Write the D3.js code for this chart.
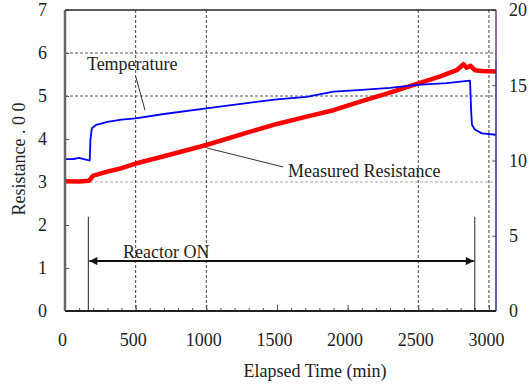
<!DOCTYPE html>
<html>
<head>
<meta charset="utf-8">
<script src="https://cdn.jsdelivr.net/npm/d3@7"></script>
<style>
  body { margin: 0; background: #fff; }
  svg { display: block; }
</style>
</head>
<body>
<div id="chart"></div>
<script>
// Temperature (right axis, deg C)
var tempTime = [0, 60, 100, 140, 175, 180, 190, 220, 300, 400, 500, 700, 1000, 1300, 1500, 1710, 1900, 2100, 2300, 2490, 2700, 2866, 2875, 2880, 2900, 2950, 3050];
var tempValue = [10.09, 10.1, 10.17, 10.08, 10.0, 11.4, 12.14, 12.37, 12.57, 12.71, 12.8, 13.09, 13.46, 13.83, 14.06, 14.23, 14.57, 14.69, 14.83, 15.03, 15.14, 15.31, 13.14, 12.37, 12.06, 11.8, 11.71];

// Measured resistance (left axis)
var resTime = [0, 100, 170, 200, 300, 400, 500, 700, 1000, 1300, 1500, 1710, 1900, 2100, 2300, 2490, 2650, 2772, 2800, 2820, 2840, 2870, 2900, 2950, 3050];
var resValue = [3.02, 3.01, 3.03, 3.15, 3.24, 3.32, 3.43, 3.6, 3.86, 4.16, 4.35, 4.52, 4.67, 4.88, 5.08, 5.28, 5.45, 5.6, 5.68, 5.74, 5.66, 5.7, 5.6, 5.58, 5.57];

// Axis ticks
var xTicks = [0, 500, 1000, 1500, 2000, 2500, 3000];
var yLeftTicks = [0, 1, 2, 3, 4, 5, 6, 7];
var yRightTicks = [0, 5, 10, 15, 20];
var xGrid = [500, 1000, 2500, 3000];
var yGrid = [3, 5, 6];

// Reactor ON period
var reactorOn = [165, 2900];

var width = 529;
var height = 389;
var margin = { top: 10, right: 33, bottom: 78, left: 65 };
var font = "'Liberation Serif', 'Times New Roman', serif";

var svg = d3.select("#chart")
  .append("svg")
  .attr("width", width)
  .attr("height", height);

var x = d3.scaleLinear()
  .domain([0, 3050])
  .range([margin.left, width - margin.right]);

var yL = d3.scaleLinear()
  .domain([0, 7])
  .range([height - margin.bottom, margin.top]);

var yR = d3.scaleLinear()
  .domain([0, 20])
  .range([height - margin.bottom, margin.top]);

// clip for the data lines
svg.append("clipPath")
  .attr("id", "plotClip")
  .append("rect")
  .attr("x", x(0))
  .attr("y", yL(7))
  .attr("width", x(3050) - x(0))
  .attr("height", yL(0) - yL(7));

// dashed grid
svg.selectAll("line.hgrid")
  .data(yGrid)
  .enter().append("line")
  .attr("class", "hgrid")
  .attr("x1", x(0))
  .attr("x2", x(3050))
  .attr("y1", d => yL(d))
  .attr("y2", d => yL(d))
  .style("stroke", "#444")
  .style("stroke-width", 1)
  .style("stroke-dasharray", "3,2")
  .style("opacity", d => d == 3 ? 0.45 : 0.9);

svg.selectAll("line.vgrid")
  .data(xGrid)
  .enter().append("line")
  .attr("class", "vgrid")
  .attr("x1", d => x(d))
  .attr("x2", d => x(d))
  .attr("y1", yL(7))
  .attr("y2", yL(0))
  .style("stroke", "#444")
  .style("stroke-width", 1)
  .style("stroke-dasharray", "3,2");

// axes with inward ticks
var xAxis = svg.append("g")
  .attr("transform", "translate(0," + yL(0) + ")")
  .call(d3.axisBottom(x).tickValues(xTicks).tickSize(-6).tickPadding(22).tickFormat(d3.format("d")));

var xMinor = svg.append("g")
  .attr("transform", "translate(0," + yL(0) + ")")
  .call(d3.axisBottom(x).tickValues(d3.range(100, 3050, 100)).tickSize(-3).tickFormat(""));

var yAxisL = svg.append("g")
  .attr("transform", "translate(" + x(0) + ",0)")
  .call(d3.axisLeft(yL).tickValues(yLeftTicks).tickSize(-4).tickPadding(18).tickFormat(d3.format("d")));

var yAxisR = svg.append("g")
  .attr("transform", "translate(" + x(3050) + ",0)")
  .call(d3.axisRight(yR).tickValues(yRightTicks).tickSize(-4).tickPadding(13).tickFormat(d3.format("d")));

[xAxis, xMinor, yAxisL, yAxisR].forEach(function (g) {
  g.select(".domain").remove();
  g.selectAll("line").style("stroke", "#555");
  g.selectAll("text")
    .style("font-family", font)
    .style("font-size", "18px")
    .style("fill", "#222");
});
xAxis.selectAll("text").attr("dx", "-3");

// data lines
var resLine = d3.line()
  .x((d, i) => x(resTime[i]))
  .y(d => yL(d));

var tempLine = d3.line()
  .x((d, i) => x(tempTime[i]))
  .y(d => yR(d));

svg.append("path")
  .datum(resValue)
  .attr("d", resLine)
  .attr("clip-path", "url(#plotClip)")
  .style("fill", "none")
  .style("stroke", "#ff0000")
  .style("stroke-width", 4.5)
  .style("stroke-linejoin", "round");

svg.append("path")
  .datum(tempValue)
  .attr("d", tempLine)
  .attr("clip-path", "url(#plotClip)")
  .style("fill", "none")
  .style("stroke", "#0000ff")
  .style("stroke-width", 1.8)
  .style("stroke-linejoin", "round");

// frame
svg.append("line")
  .attr("x1", x(0)).attr("x2", x(3050))
  .attr("y1", yL(7)).attr("y2", yL(7))
  .style("stroke", "#222").style("stroke-width", 1.5);
svg.append("line")
  .attr("x1", x(0)).attr("x2", x(3050))
  .attr("y1", yL(0)).attr("y2", yL(0))
  .style("stroke", "#222").style("stroke-width", 2);
svg.append("line")
  .attr("x1", x(0)).attr("x2", x(0))
  .attr("y1", yL(7)).attr("y2", yL(0))
  .style("stroke", "#666").style("stroke-width", 2.5);
svg.append("line")
  .attr("x1", x(3050)).attr("x2", x(3050))
  .attr("y1", yL(7)).attr("y2", yL(5.85))
  .style("stroke", "#7a3a8a").style("stroke-width", 1.5);
svg.append("line")
  .attr("x1", x(3050)).attr("x2", x(3050))
  .attr("y1", yL(5.85)).attr("y2", yL(0))
  .style("stroke", "#2a2a9a").style("stroke-width", 1.5);

// reactor ON markers
svg.selectAll("line.reactor")
  .data(reactorOn)
  .enter().append("line")
  .attr("class", "reactor")
  .attr("x1", d => x(d))
  .attr("x2", d => x(d))
  .attr("y1", yL(2.19))
  .attr("y2", yL(0))
  .style("stroke", "#222")
  .style("stroke-width", 1);

var defs = svg.append("defs");
defs.append("marker")
  .attr("id", "arrow")
  .attr("viewBox", "0 0 10 10")
  .attr("refX", 10)
  .attr("refY", 5)
  .attr("markerWidth", 5)
  .attr("markerHeight", 4)
  .attr("markerUnits", "strokeWidth")
  .attr("orient", "auto-start-reverse")
  .append("path")
  .attr("d", "M0,0L10,5L0,10z")
  .style("fill", "#111");

svg.append("line")
  .attr("x1", x(reactorOn[0]) + 1)
  .attr("x2", x(reactorOn[1]) - 1)
  .attr("y1", yL(1.16))
  .attr("y2", yL(1.16))
  .attr("marker-start", "url(#arrow)")
  .attr("marker-end", "url(#arrow)")
  .style("stroke", "#111")
  .style("stroke-width", 2);

// annotations
function label(text, t, v) {
  svg.append("text")
    .attr("x", x(t))
    .attr("y", yL(v))
    .style("font-family", font)
    .style("font-size", "18px")
    .style("fill", "#222")
    .text(text);
}
function leader(t1, v1, t2, v2) {
  svg.append("line")
    .attr("x1", x(t1)).attr("y1", yL(v1))
    .attr("x2", x(t2)).attr("y2", yL(v2))
    .style("stroke", "#333")
    .style("stroke-width", 1);
}

label("Temperature", 155, 5.6);
leader(502, 5.44, 566, 4.67);
label("Measured Resistance", 1578, 3.12);
leader(1005, 3.79, 1543, 3.35);
label("Reactor ON", 410, 1.23);

// axis titles
svg.append("text")
  .attr("x", 315)
  .attr("y", 377)
  .attr("text-anchor", "middle")
  .style("font-family", font)
  .style("font-size", "18px")
  .style("fill", "#222")
  .text("Elapsed Time (min)");

svg.append("text")
  .attr("transform", "translate(25,159) rotate(-90)")
  .attr("text-anchor", "middle")
  .style("font-family", font)
  .style("font-size", "18px")
  .style("fill", "#222")
  .text("Resistance . 0 0");
</script>
</body>
</html>
